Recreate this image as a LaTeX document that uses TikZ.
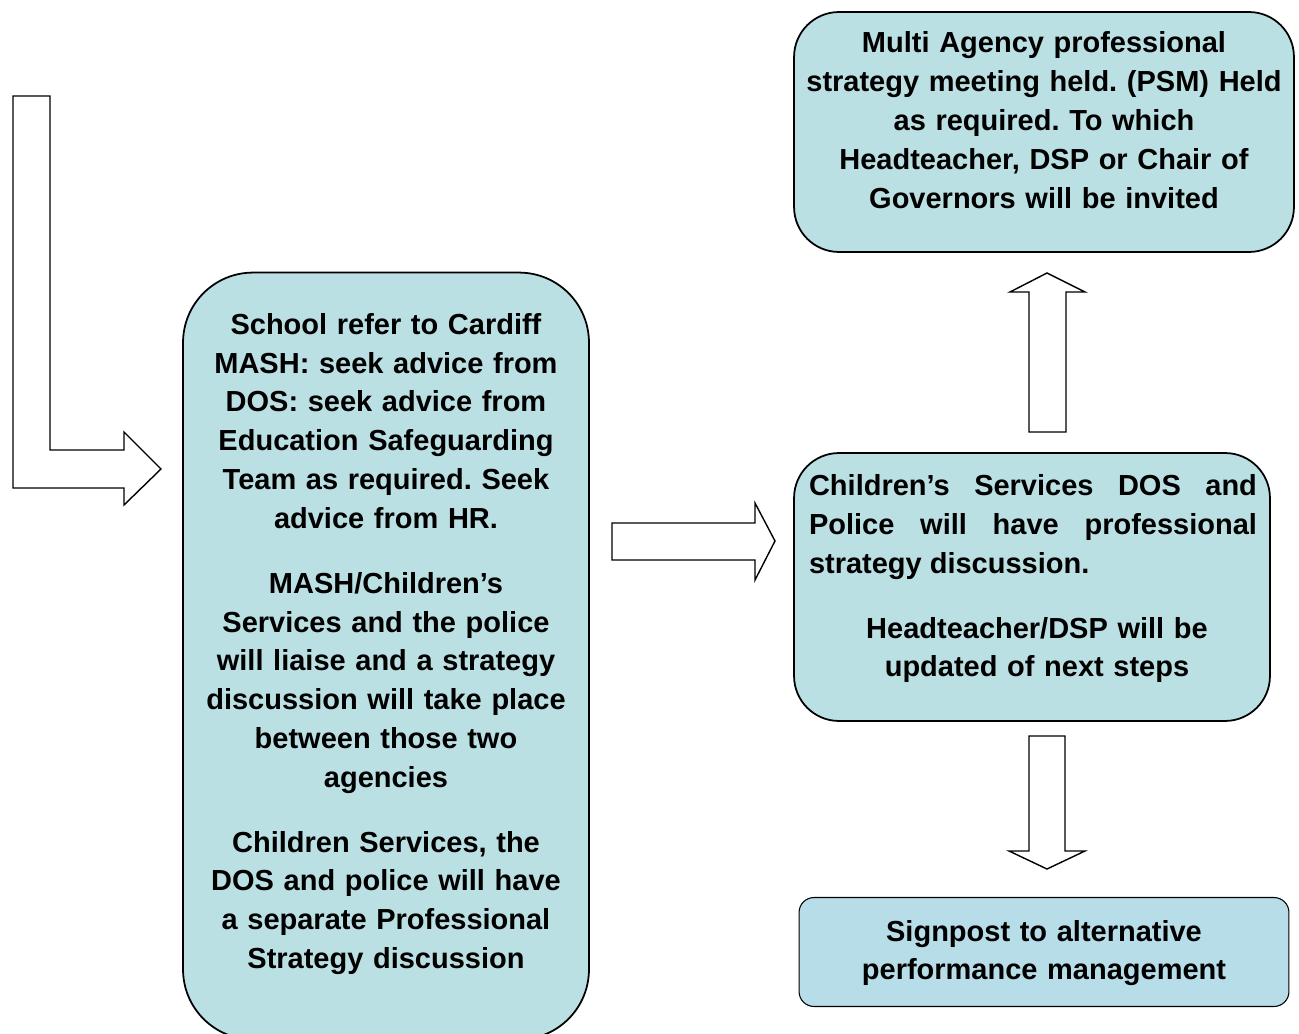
\documentclass[tikz,border=0pt]{standalone}
\usepackage{fontspec}
\setmainfont{Liberation Sans}
\usepackage{tikz}
\definecolor{boxblue}{RGB}{187,224,227}
\definecolor{signblue}{RGB}{183,221,232}
\frenchspacing

\begin{document}
\begin{tikzpicture}[x=0.02cm,y=-0.02cm,
    box/.style={rectangle,draw,line width=1pt,fill=boxblue},
    txt/.style={align=center,font=\fontsize{16.5}{22.1}\selectfont\bfseries,inner sep=0pt},
    blockarrow/.style={draw,line width=0.8pt,fill=white,line join=miter}]
    \useasboundingbox (0,0) rectangle (1299,1034);
    \node (left) [box,rounded corners=1.4cm,minimum width=8.12cm,minimum height=15.34cm] at (386,656) {};
    \node (psm) [box,rounded corners=0.9cm,minimum width=10cm,minimum height=4.8cm] at (1044,132) {};
    \node (dos) [box,rounded corners=0.9cm,minimum width=9.52cm,minimum height=5.36cm] at (1032,587) {};
    \node (sign) [box,fill=signblue,rounded corners=0.3cm,line width=0.6pt,minimum width=9.8cm,minimum height=2.18cm] at (1044,952) {};
    \node (lefttxt) [txt,text width=7.8cm] at (386,644) {School refer to Cardiff\\MASH: seek advice from\\DOS: seek advice from\\Education Safeguarding\\Team as required. Seek\\advice from HR.\\[0.52cm]MASH/Children’s\\Services and the police\\will liaise and a strategy\\discussion will take place\\between those two\\agencies\\[0.52cm]Children Services, the\\DOS and police will have\\a separate Professional\\Strategy discussion};
    \node (psmtxt) [txt,text width=9.8cm] at (1044,120) {Multi Agency professional\\strategy meeting held. (PSM) Held\\as required. To which\\Headteacher, DSP or Chair of\\Governors will be invited};
    \node (dostxt) [txt,align=justify,text width=8.96cm] at (1033,527) {Children’s Services DOS and\linebreak Police will have professional\linebreak strategy discussion.};
    \node (steptxt) [txt,text width=8.96cm] at (1037,650) {Headteacher/DSP will be\\updated of next steps};
    \node (signtxt) [txt,text width=9.4cm] at (1044,953) {Signpost to alternative\\performance management};
    % block arrows
    \draw [blockarrow] (13,96) -- (50,96) -- (50,450) -- (124,450) -- (124,432) -- (161,469) -- (124,505) -- (124,488) -- (13,488) -- cycle;
    \draw [blockarrow] (612,523) -- (755,523) -- (755,503) -- (775,541) -- (755,580) -- (755,560) -- (612,560) -- cycle;
    \draw [blockarrow] (1029,432) -- (1029,292) -- (1010,292) -- (1047,273) -- (1085,292) -- (1066,292) -- (1066,432) -- cycle;
    \draw [blockarrow] (1029,736) -- (1065,736) -- (1065,851) -- (1085,851) -- (1047,869) -- (1009,851) -- (1029,851) -- cycle;
\end{tikzpicture}
\end{document}
